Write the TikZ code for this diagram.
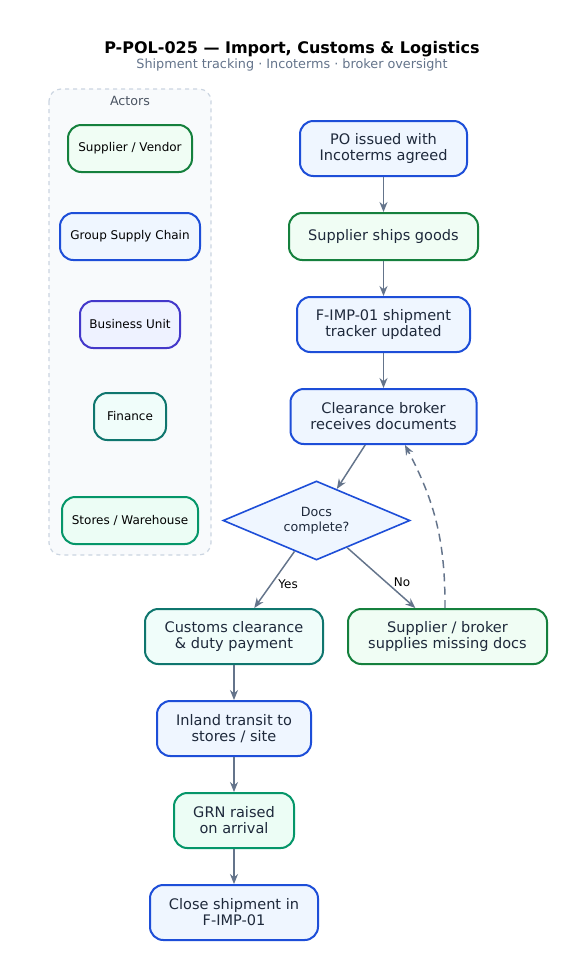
\documentclass[tikz,border=0pt]{standalone}
\usepackage{fontspec}
\setmainfont{DejaVu Sans}
\usepackage{tikz}
\definecolor{blueline}{HTML}{1D4ED8}
\definecolor{bluefill}{HTML}{EFF6FF}
\definecolor{greenline}{HTML}{15803D}
\definecolor{greenfill}{HTML}{F0FDF4}
\definecolor{indigoline}{HTML}{4338CA}
\definecolor{indigofill}{HTML}{EEF2FF}
\definecolor{tealline}{HTML}{0F766E}
\definecolor{tealfill}{HTML}{F0FDFA}
\definecolor{emeraldline}{HTML}{059669}
\definecolor{emeraldfill}{HTML}{ECFDF5}
\definecolor{arrowgray}{HTML}{64748B}
\definecolor{textdark}{HTML}{1E293B}
\definecolor{lanefill}{HTML}{F8FAFC}
\definecolor{laneline}{HTML}{CBD5E1}
\usetikzlibrary{shapes.geometric, arrows.meta, positioning}

\begin{document}
\begin{tikzpicture}[x=0.75pt, y=-0.75pt,
    stepbox/.style={rectangle, draw, line width=1.5pt, rounded corners=10pt, align=center, inner sep=0pt, minimum height=41.25pt, font=\fontsize{10.9}{12}\selectfont, text=textdark},
    actorbox/.style={stepbox, minimum height=35.25pt, font=\fontsize{9}{10}\selectfont, text=black},
    bluebox/.style={draw=blueline, fill=bluefill},
    greenbox/.style={draw=greenline, fill=greenfill},
    indigobox/.style={draw=indigoline, fill=indigofill},
    tealbox/.style={draw=tealline, fill=tealfill},
    emeraldbox/.style={draw=emeraldline, fill=emeraldfill},
    decision/.style={diamond, draw=blueline, fill=bluefill, line width=1.2pt, aspect=2.37, inner sep=0pt, minimum width=140.25pt, minimum height=59.25pt, align=center, font=\fontsize{9.5}{11}\selectfont, text=textdark},
    flow/.style={draw=arrowgray, line width=1.1pt, -{Stealth[length=7.5pt, width=6pt]}},
    lbl/.style={font=\fontsize{9}{10}\selectfont, text=black, inner sep=2pt}
]
    \fill[white] (0,0) rectangle (585,979);
    \useasboundingbox (0,0) rectangle (585,979);

    % title
    \node[font=\fontsize{12}{14}\selectfont\bfseries, text=black] (title) at (292,49) {P-POL-025 — Import, Customs \& Logistics};
    \node[font=\fontsize{9.6}{11}\selectfont, text=arrowgray] (subtitle) at (292,64.5) {Shipment tracking · Incoterms · broker oversight};

    % actors lane
    \draw[laneline, fill=lanefill, dashed, line width=0.9pt, rounded corners=9pt] (49,89) rectangle (211,555);
    \node[font=\fontsize{9.5}{11}\selectfont, text=textdark!80] (actors) at (130,101) {Actors};
    \node[actorbox, greenbox, minimum width=93pt] (vendor) at (130,148.5) {Supplier / Vendor};
    \node[actorbox, bluebox, minimum width=105pt] (gsc) at (130,236.5) {Group Supply Chain};
    \node[actorbox, indigobox, minimum width=75pt] (bu) at (130,324.5) {Business Unit};
    \node[actorbox, tealbox, minimum width=54pt] (fin) at (130,416.5) {Finance};
    \node[actorbox, emeraldbox, minimum width=102pt] (stores) at (130,520.5) {Stores / Warehouse};

    % process
    \node[stepbox, bluebox, minimum width=125.25pt] (po) at (383.5,148.5) {PO issued with\\Incoterms agreed};
    \node[stepbox, greenbox, minimum width=141.75pt, minimum height=35.25pt] (ships) at (383.5,236.5) {Supplier ships goods};
    \node[stepbox, bluebox, minimum width=129.75pt] (tracker) at (383.5,324.5) {F-IMP-01 shipment\\tracker updated};
    \node[stepbox, bluebox, minimum width=139.5pt] (broker) at (383.5,416.5) {Clearance broker\\receives documents};
    \node[decision] (docs) at (316.5,520.5) {Docs\\complete?};
    \node[stepbox, tealbox, minimum width=133.5pt] (customs) at (234,636.5) {Customs clearance\\\& duty payment};
    \node[stepbox, greenbox, minimum width=149.25pt] (missing) at (447.5,636.5) {Supplier / broker\\supplies missing docs};
    \node[stepbox, bluebox, minimum width=115.5pt] (transit) at (234,728.5) {Inland transit to\\stores / site};
    \node[stepbox, emeraldbox, minimum width=90pt] (grn) at (234,820.5) {GRN raised\\on arrival};
    \node[stepbox, bluebox, minimum width=126pt] (close) at (234,912.5) {Close shipment in\\F-IMP-01};

    % connectors
    \draw[flow] (po) -- (ships);
    \draw[flow] (ships) -- (tracker);
    \draw[flow] (tracker) -- (broker);
    \draw[flow] (broker) -- (docs);
    \draw[flow] (docs) -- node[lbl, pos=0.5, right=0.5pt, yshift=-3pt] {Yes} (customs);
    \draw[flow] (docs) -- node[lbl, pos=0.5, right=7pt, yshift=-3pt] {No} (missing);
    \draw[flow, dashed, dash pattern=on 6pt off 4pt] (missing.95) to[bend right=14] (broker.-53);
    \draw[flow] (customs) -- (transit);
    \draw[flow] (transit) -- (grn);
    \draw[flow] (grn) -- (close);
\end{tikzpicture}
\end{document}
